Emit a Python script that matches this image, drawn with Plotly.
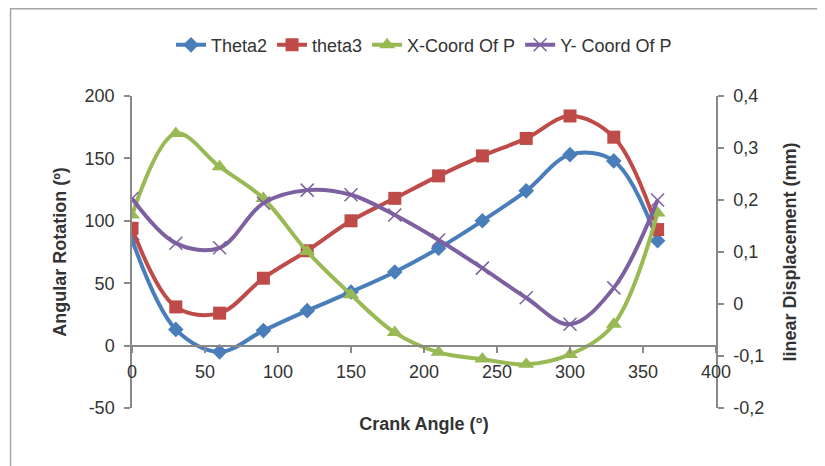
import plotly.graph_objects as go

crank_angle = [0, 30, 60, 90, 120, 150, 180, 210, 240, 270, 300, 330, 360]
theta2 = [85, 13, -5, 12, 28, 43, 59, 78, 100, 124, 153, 148, 84]
theta3 = [94, 31, 26, 54, 76, 100, 118, 136, 152, 166, 184, 167, 93]
x_coord_p = [0.171, 0.328, 0.264, 0.203, 0.101, 0.018, -0.055, -0.093, -0.106, -0.116, -0.097, -0.039, 0.175]
y_coord_p = [0.203, 0.117, 0.108, 0.194, 0.219, 0.210, 0.171, 0.123, 0.069, 0.012, -0.039, 0.031, 0.200]

left_ticks = [-50, 0, 50, 100, 150, 200]
left_labels = ["-50", "0", "50", "100", "150", "200"]
right_ticks = [-0.2, -0.1, 0, 0.1, 0.2, 0.3, 0.4]
right_labels = ["-0,2", "-0,1", "0", "0,1", "0,2", "0,3", "0,4"]

FONT = "Liberation Sans"
TXT = "#333333"
AX = "#898989"

fig = go.Figure()
fig.add_trace(go.Scatter(x=crank_angle, y=theta2, name="Theta2", mode="lines+markers",
                         line=dict(color="#4A7EBB", width=4, shape="spline", smoothing=1),
                         marker=dict(symbol="diamond", size=12, color="#4A7EBB")))
fig.add_trace(go.Scatter(x=crank_angle, y=theta3, name="theta3", mode="lines+markers",
                         line=dict(color="#BE4B48", width=4, shape="spline", smoothing=1),
                         marker=dict(symbol="square", size=13, color="#BE4B48")))
fig.add_trace(go.Scatter(x=crank_angle, y=x_coord_p, name="X-Coord Of P", mode="lines+markers", yaxis="y2",
                         line=dict(color="#98B954", width=4, shape="spline", smoothing=1),
                         marker=dict(symbol="triangle-up", size=14, color="#98B954")))
fig.add_trace(go.Scatter(x=crank_angle, y=y_coord_p, name="Y- Coord Of P", mode="lines+markers", yaxis="y2",
                         line=dict(color="#7D60A0", width=4, shape="spline", smoothing=1),
                         marker=dict(symbol="x-thin", size=13, color="#7D60A0",
                                     line=dict(color="#7D60A0", width=1.5))))

fig.update_layout(
    width=817, height=458,
    margin=dict(l=124, r=109, t=88, b=58, autoexpand=False),
    paper_bgcolor="white", plot_bgcolor="white",
    font=dict(family=FONT, size=18, color=TXT),
    showlegend=True,
    legend=dict(orientation="h", x=0.5, xanchor="center", y=1.163, yanchor="middle",
                font=dict(family=FONT, size=18, color=TXT), bgcolor="rgba(0,0,0,0)"),
    xaxis=dict(range=[0, 400], dtick=50, tick0=0, anchor="free", position=0.2, automargin=False,
               showline=True, linecolor=AX, linewidth=1.5, ticks="outside", tickcolor=AX,
               ticklen=7, tickwidth=1.5, showgrid=False, zeroline=False, ticklabelstandoff=3,
               title=dict(text="<b>Crank Angle (°)</b>", font=dict(size=18, color=TXT), standoff=35)),
    yaxis=dict(range=[-50, 200], tickvals=left_ticks, ticktext=left_labels, automargin=False,
               showline=True, linecolor=AX, linewidth=1.5,
               ticks="outside", tickcolor=AX, ticklen=6, tickwidth=1.5, showgrid=False,
               zeroline=False, ticklabelstandoff=6,
               title=dict(text="<b>Angular Rotation (º)</b>", font=dict(size=18, color=TXT), standoff=13)),
    yaxis2=dict(range=[-0.2, 0.4], tickvals=right_ticks, ticktext=right_labels, overlaying="y", side="right",
                anchor="x", automargin=False, showline=True, linecolor=AX, linewidth=1.5, ticks="outside",
                tickcolor=AX, ticklen=6, tickwidth=1.5, showgrid=False, zeroline=False,
                ticklabelstandoff=6,
                title=dict(text="<b>linear Displacement (mm)</b>", font=dict(size=18, color=TXT), standoff=20)),
)

fig.add_shape(type="rect", xref="paper", yref="paper", x0=-0.208, x1=1.4, y0=-0.4, y1=1.2796,
              line=dict(color="#A6A6A6", width=1.5), fillcolor="rgba(0,0,0,0)", layer="below")

fig.write_html("out.html")
